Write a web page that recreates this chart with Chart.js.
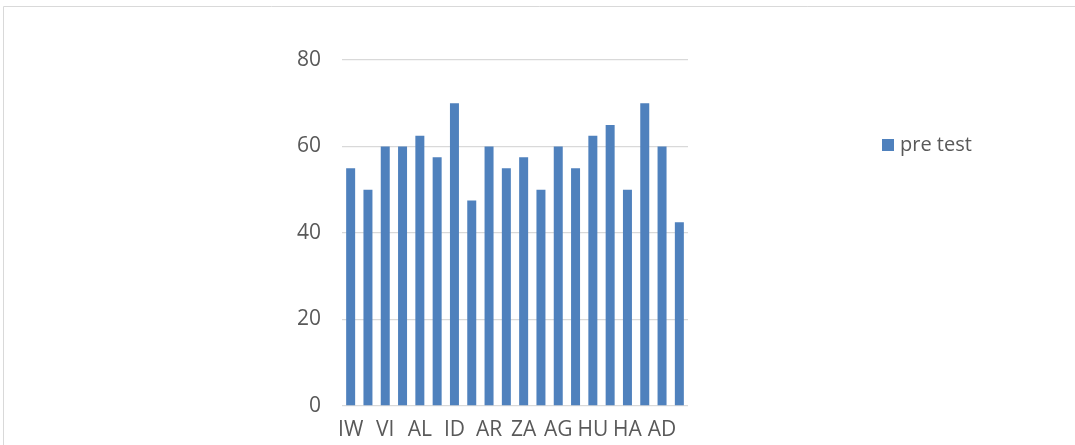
<!DOCTYPE html>
<html>
<head>
<meta charset="utf-8">
<script src="https://cdn.jsdelivr.net/npm/chart.js@4/dist/chart.umd.min.js"></script>
<style>
  html, body { margin: 0; padding: 0; background: #fff; overflow: hidden; }
  canvas { display: block; }
</style>
</head>
<body>
<canvas id="chart" width="1075" height="445"></canvas>
<script>
// only every other category name is printed in the source chart
const categories = ["IW", "", "VI", "", "AL", "", "ID", "", "AR", "", "ZA", "", "AG", "", "HU", "", "HA", "", "AD", ""];
const preTest = [55, 50, 60, 60, 62.5, 57.5, 70, 47.5, 60, 55, 57.5, 50, 60, 55, 62.5, 65, 50, 70, 60, 42.5];
const yTicks = [0, 20, 40, 60, 80];

const barColor = "#4f81bd";
const textColor = "#595959";
const gridColor = "#d9d9d9";
const fontFamily = "'Open Sans', 'Liberation Sans', sans-serif";

// Chart frame: only the top and left edges fall inside the picture
const frame = {
  id: "frame",
  beforeDraw(chart) {
    const c = chart.ctx;
    c.save();
    c.strokeStyle = gridColor;
    c.lineWidth = 1;
    c.beginPath();
    c.moveTo(3.5, chart.height);
    c.lineTo(3.5, 6.5);
    c.lineTo(chart.width, 6.5);
    c.stroke();
    c.restore();
  }
};

// Draw the legend box to the right, like the original
const sideLegend = {
  id: "sideLegend",
  afterDraw(chart) {
    const c = chart.ctx;
    const ds = chart.data.datasets[0];
    c.save();
    c.fillStyle = ds.backgroundColor;
    c.fillRect(882, 139, 12, 12);
    c.fillStyle = textColor;
    c.font = "20px " + fontFamily;
    c.textBaseline = "middle";
    c.textAlign = "left";
    c.fillText(ds.label, 900, 145);
    c.restore();
  }
};

const ctx = document.getElementById("chart").getContext("2d");
new Chart(ctx, {
  type: "bar",
  data: {
    labels: categories,
    datasets: [{
      label: "pre test",
      data: preTest,
      backgroundColor: barColor,
      categoryPercentage: 1,
      barPercentage: 0.52
    }]
  },
  options: {
    responsive: false,
    animation: false,
    layout: { padding: { left: 0, right: 387, top: 60, bottom: 0 } },
    plugins: {
      legend: { display: false },
      title: { display: false },
      tooltip: { enabled: false }
    },
    scales: {
      x: {
        grid: { display: false, drawTicks: false },
        border: { display: false },
        ticks: {
          autoSkip: false,
          maxRotation: 0,
          minRotation: 0,
          padding: 11,
          color: textColor,
          font: { family: fontFamily, size: 21 }
        },
        afterFit(scale) { scale.height = 39; }
      },
      y: {
        min: 0,
        max: 80,
        afterBuildTicks(scale) { scale.ticks = yTicks.map(v => ({ value: v })); },
        grid: { color: gridColor, lineWidth: 1.3, drawTicks: false },
        border: { display: false },
        ticks: {
          padding: 21,
          color: textColor,
          font: { family: fontFamily, size: 21 }
        },
        afterFit(scale) { scale.width = 342; }
      }
    }
  },
  plugins: [frame, sideLegend]
});
</script>
</body>
</html>
